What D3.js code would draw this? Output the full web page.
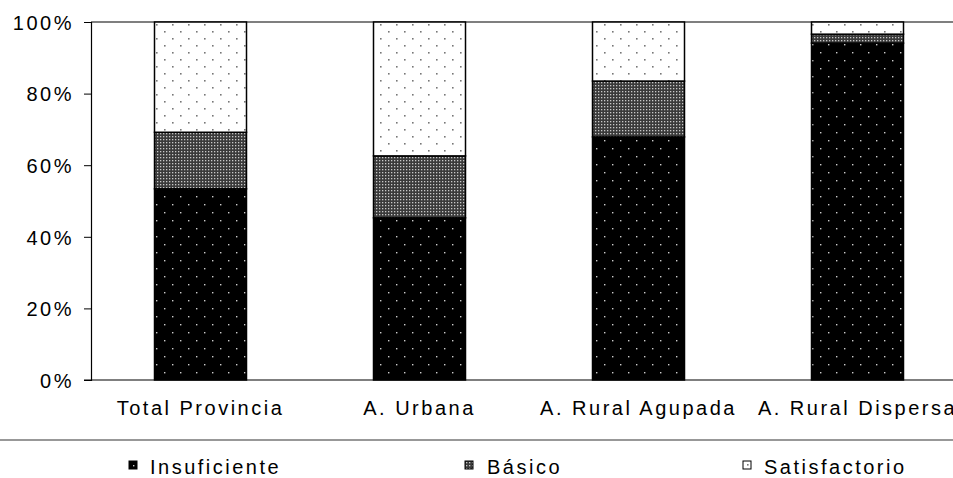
<!DOCTYPE html>
<html>
<head>
<script src="https://cdnjs.cloudflare.com/ajax/libs/d3/7.8.5/d3.min.js"></script>
<style>
  body { margin: 0; background: #fff; }
  text { font-family: "Liberation Sans", Arial, sans-serif; fill: #000; }
</style>
</head>
<body>
<div id="vis"></div>
<script type="text/javascript">

    const categories = ["Total Provincia", "A. Urbana", "A. Rural Agupada", "A. Rural Dispersa"];
    const series = ["Insuficiente", "Básico", "Satisfactorio"];
    const insuficiente = [53.4, 45.3, 67.9, 94.1];
    const basico = [15.8, 17.3, 15.6, 2.5];
    const satisfactorio = [30.8, 37.4, 16.5, 3.4];
    const yTicks = [0, 20, 40, 60, 80, 100];

    const W = 953, H = 478;
    const svg = d3.select("#vis").append("svg").attr("width", W).attr("height", H);

    // patterns
    const defs = svg.append("defs");
    const pIns = defs.append("pattern").attr("id", "p-ins").attr("patternUnits", "userSpaceOnUse")
        .attr("width", 16).attr("height", 16);
    pIns.append("rect").attr("width", 16).attr("height", 16).attr("fill", "#000");
    [[4, 4], [12, 12]].forEach(p => pIns.append("rect").attr("x", p[0]).attr("y", p[1]).attr("width", 1.4).attr("height", 1.4).attr("fill", "#ccc"));

    const pBas = defs.append("pattern").attr("id", "p-bas").attr("patternUnits", "userSpaceOnUse")
        .attr("width", 3).attr("height", 3);
    pBas.append("rect").attr("width", 3).attr("height", 3).attr("fill", "#3a3a3a");
    pBas.append("rect").attr("x", 1).attr("y", 1).attr("width", 1.3).attr("height", 1.3).attr("fill", "#c8c8c8");

    const pSat = defs.append("pattern").attr("id", "p-sat").attr("patternUnits", "userSpaceOnUse")
        .attr("width", 16).attr("height", 14);
    pSat.append("rect").attr("width", 16).attr("height", 14).attr("fill", "#fff");
    [[4, 3], [12, 10]].forEach(p => pSat.append("rect").attr("x", p[0]).attr("y", p[1]).attr("width", 1.6).attr("height", 1.6).attr("fill", "#777"));

    const fills = ["url(#p-ins)", "url(#p-bas)", "url(#p-sat)"];

    const x = d3.scaleBand().domain(categories).range([91, 91 + 4 * 219]).paddingInner(0.58).paddingOuter(0.29);
    const y = d3.scaleLinear().domain([0, 100]).range([380, 22]);

    const rows = categories.map((c, i) => ({cat: c, "Insuficiente": insuficiente[i], "Básico": basico[i], "Satisfactorio": satisfactorio[i]}));
    const stacked = d3.stack().keys(series)(rows);

    // top gridline
    svg.append("line").attr("x1", 91).attr("x2", W).attr("y1", y(100)).attr("y2", y(100))
        .attr("stroke", "#000").attr("stroke-width", 1.2);

    const bw = 92;
    stacked.forEach((s, si) => {
        svg.append("g").selectAll("rect").data(s).join("rect")
            .attr("x", d => x(d.data.cat) + x.bandwidth() / 2 - bw / 2)
            .attr("width", bw)
            .attr("y", d => y(d[1]))
            .attr("height", d => y(d[0]) - y(d[1]))
            .attr("fill", fills[si])
            .attr("stroke", "#000").attr("stroke-width", 1.5);
    });

    const fs = "20px", ls = "2.5px";

    // y axis
    const yAxis = svg.append("g").attr("transform", "translate(91,0)")
        .call(d3.axisLeft(y).tickValues(yTicks).tickFormat(d => d + "%").tickSize(7).tickPadding(10));
    yAxis.select(".domain").attr("stroke", "#000").attr("stroke-width", 1.2);
    yAxis.selectAll(".tick line").attr("stroke", "#000");
    yAxis.selectAll("text").style("font-size", fs).style("letter-spacing", ls).attr("dy", "0.36em");

    // x axis
    const xAxis = svg.append("g").attr("transform", "translate(0,380)")
        .call(d3.axisBottom(x).tickSize(0).tickPadding(21));
    xAxis.select(".domain").remove();
    svg.append("line").attr("x1", 84).attr("x2", W).attr("y1", 380).attr("y2", 380)
        .attr("stroke", "#000").attr("stroke-width", 1.2);
    xAxis.selectAll("text").style("font-size", fs).style("letter-spacing", ls).attr("dy", "0.71em");

    // legend
    svg.append("line").attr("x1", 0).attr("x2", W).attr("y1", 440).attr("y2", 440)
        .attr("stroke", "#333").attr("stroke-width", 1.2);
    const legX = [129, 465, 743];
    const lg = svg.append("g").selectAll("g").data(series).join("g")
        .attr("transform", (d, i) => `translate(${legX[i]},461)`);
    lg.append("rect").attr("width", 8).attr("height", 8)
        .attr("fill", (d, i) => fills[i]).attr("stroke", "#000").attr("stroke-width", 1);
    lg.append("text").attr("x", (d, i) => i === 1 ? 22 : 21).attr("y", 13)
        .style("font-size", fs).style("letter-spacing", ls).text(d => d);

</script>
</body>
</html>
